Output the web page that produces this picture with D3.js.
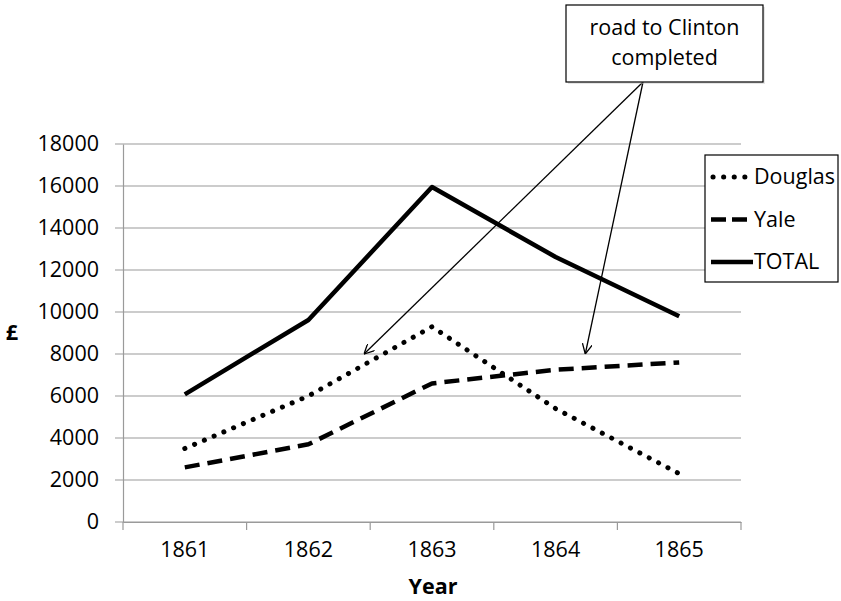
<!DOCTYPE html>
<html>
<head>
<meta charset="utf-8">
<script src="https://cdn.jsdelivr.net/npm/d3@7"></script>
<style>
  body { margin: 0; background: #fff; }
  text { font-family: "Open Sans", sans-serif; fill: #000; }
</style>
</head>
<body>
<div id="chart-area"></div>
<script>
const MARGIN = { LEFT: 123, RIGHT: 100, TOP: 144, BOTTOM: 79 }
const WIDTH = 841 - MARGIN.LEFT - MARGIN.RIGHT
const HEIGHT = 601 - MARGIN.TOP - MARGIN.BOTTOM

// data
const years = ["1861", "1862", "1863", "1864", "1865"]
const douglas = [3500, 6000, 9300, 5400, 2300]
const yale = [2600, 3700, 6600, 7250, 7600]
const total = [6080, 9620, 15950, 12620, 9800]
const yTicks = [0, 2000, 4000, 6000, 8000, 10000, 12000, 14000, 16000, 18000]
const seriesNames = ["Douglas", "Yale", "TOTAL"]
const annotation = ["road to Clinton", "completed"]
const arrowTargets = [{ year: "1862", frac: 0.95, value: 8000 }, { year: "1864", frac: 0.74, value: 8000 }]

const styles = {
  Douglas: { dash: "0.1,10.5", cap: "round", width: 5 },
  Yale: { dash: "15,8", cap: "butt", width: 4.5 },
  TOTAL: { dash: null, cap: "butt", width: 4.5 }
}
const FONT = "21.5px"

const svg = d3.select("#chart-area")
  .append("svg")
    .attr("width", 841)
    .attr("height", 601)

svg.append("defs").append("marker")
    .attr("id", "arrow")
    .attr("viewBox", "0 0 10 10")
    .attr("refX", 10)
    .attr("refY", 5)
    .attr("markerWidth", 10)
    .attr("markerHeight", 10)
    .attr("markerUnits", "userSpaceOnUse")
    .attr("orient", "auto")
  .append("path")
    .attr("d", "M0,0 L10,5 L0,10")
    .attr("fill", "none")
    .attr("stroke", "#000")
    .attr("stroke-width", 1.3)

const g = svg.append("g")
    .attr("transform", `translate(${MARGIN.LEFT}, ${MARGIN.TOP})`)

const x = d3.scaleBand()
  .domain(years)
  .range([0, WIDTH])

const y = d3.scaleLinear()
  .domain([0, 18000])
  .range([HEIGHT, 0])

// gridlines
g.append("g")
  .selectAll("line")
  .data(yTicks)
  .enter().append("line")
    .attr("x1", -8)
    .attr("x2", WIDTH)
    .attr("y1", d => y(d))
    .attr("y2", d => y(d))
    .attr("stroke", "#9a9a9a")
    .attr("stroke-width", 1.2)

// y axis
const yAxis = g.append("g")
  .call(d3.axisLeft(y).tickValues(yTicks).tickSize(0).tickPadding(24).tickFormat(d => d))
yAxis.select(".domain").attr("stroke", "#9a9a9a").attr("stroke-width", 1.2)
yAxis.selectAll("text").attr("font-size", FONT).attr("fill", "#000")

// x axis with ticks on the band edges
const xAxis = g.append("g")
  .attr("transform", `translate(0, ${HEIGHT})`)
  .call(d3.axisBottom(x).tickSize(0).tickPadding(20))
xAxis.select(".domain").attr("stroke", "#9a9a9a").attr("stroke-width", 1.2)
xAxis.selectAll("text").attr("font-size", FONT).attr("fill", "#000")
xAxis.selectAll(".edge")
  .data(years.concat(["end"]))
  .enter().append("line")
    .attr("x1", (d, i) => i * x.step())
    .attr("x2", (d, i) => i * x.step())
    .attr("y1", 0)
    .attr("y2", 8)
    .attr("stroke", "#9a9a9a")
    .attr("stroke-width", 1.2)

// axis labels
g.append("text")
  .attr("x", WIDTH / 2 + 1)
  .attr("y", HEIGHT + 72)
  .attr("font-size", FONT)
  .attr("font-weight", "bold")
  .attr("text-anchor", "middle")
  .text("Year")

g.append("text")
  .attr("x", -MARGIN.LEFT + 12)
  .attr("y", y(9000) + 7)
  .attr("font-size", FONT)
  .attr("font-weight", "bold")
  .attr("text-anchor", "middle")
  .text("£")

// lines
const line = d3.line()
  .x((d, i) => x(years[i]) + x.bandwidth() / 2)
  .y(d => y(d))

const seriesData = [douglas, yale, total]
seriesData.forEach((vals, i) => {
  const s = styles[seriesNames[i]]
  g.append("path")
    .datum(vals)
    .attr("d", line)
    .attr("fill", "none")
    .attr("stroke", "#000")
    .attr("stroke-width", s.width)
    .attr("stroke-linecap", s.cap)
    .attr("stroke-linejoin", "round")
    .attr("stroke-dasharray", s.dash)
})

// legend
const legend = svg.append("g").attr("transform", "translate(705, 155)")
legend.append("rect")
  .attr("width", 133)
  .attr("height", 127)
  .attr("fill", "#fff")
  .attr("stroke", "#000")
  .attr("stroke-width", 1.2)
seriesNames.forEach((name, i) => {
  const s = styles[name]
  const ly = 22 + i * 42.5
  legend.append("line")
    .attr("x1", name === "Douglas" ? 8 : 6)
    .attr("x2", 48)
    .attr("y1", ly)
    .attr("y2", ly)
    .attr("stroke", "#000")
    .attr("stroke-width", s.width)
    .attr("stroke-linecap", s.cap)
    .attr("stroke-dasharray", name === "Yale" ? "15,6" : s.dash)
  legend.append("text")
    .attr("x", 49)
    .attr("y", ly + 7)
    .attr("font-size", FONT)
    .text(name)
})

// annotation box and arrows
const boxX = 566, boxY = 5, boxW = 197, boxH = 77
const startX = 643, startY = boxY + boxH
arrowTargets.forEach(t => {
  svg.append("line")
    .attr("x1", startX)
    .attr("y1", startY)
    .attr("x2", MARGIN.LEFT + x(t.year) + x.bandwidth() * t.frac)
    .attr("y2", MARGIN.TOP + y(t.value))
    .attr("stroke", "#000")
    .attr("stroke-width", 1.3)
    .attr("marker-end", "url(#arrow)")
})

svg.append("rect")
  .attr("x", boxX + 2)
  .attr("y", boxY + 2)
  .attr("width", boxW)
  .attr("height", boxH)
  .attr("fill", "#ccc")
  .attr("opacity", 0.5)
svg.append("rect")
  .attr("x", boxX)
  .attr("y", boxY)
  .attr("width", boxW)
  .attr("height", boxH)
  .attr("fill", "#fff")
  .attr("stroke", "#000")
  .attr("stroke-width", 1.2)
annotation.forEach((t, i) => {
  svg.append("text")
    .attr("x", boxX + boxW / 2)
    .attr("y", boxY + 30 + i * 30)
    .attr("font-size", FONT)
    .attr("text-anchor", "middle")
    .text(t)
})
</script>
</body>
</html>
